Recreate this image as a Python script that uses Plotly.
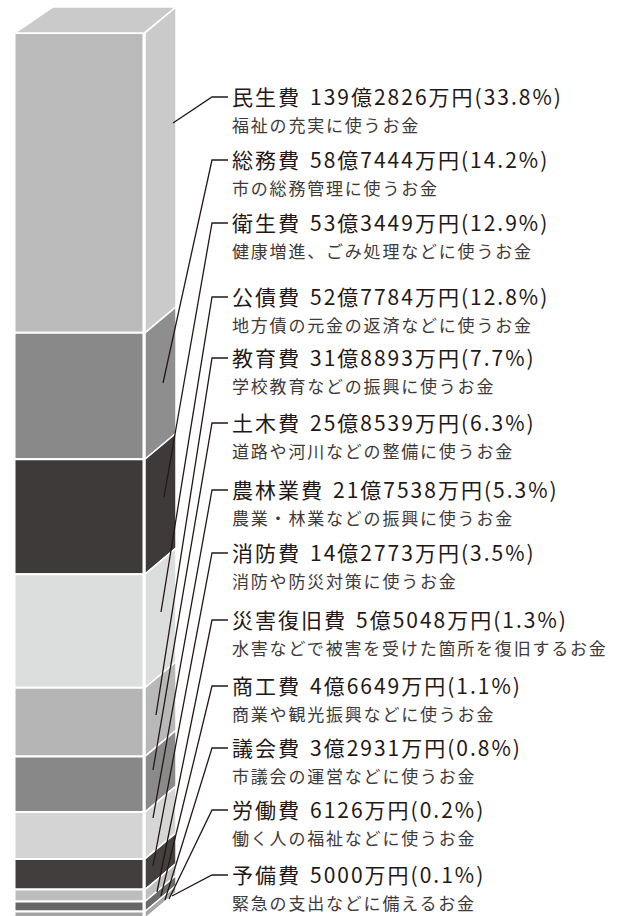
import plotly.graph_objects as go

# ---------------- data ----------------
categories = ["民生費", "総務費", "衛生費", "公債費", "教育費", "土木費", "農林業費",
              "消防費", "災害復旧費", "商工費", "議会費", "労働費", "予備費"]
amount_man = [1392826, 587444, 533449, 527784, 318893, 258539, 217538,
              142773, 55048, 46649, 32931, 6126, 5000]          # 万円
percent_labels = [33.8, 14.2, 12.9, 12.8, 7.7, 6.3, 5.3, 3.5, 1.3, 1.1, 0.8, 0.2, 0.1]
descriptions = ["福祉の充実に使うお金", "市の総務管理に使うお金", "健康増進、ごみ処理などに使うお金",
                "地方債の元金の返済などに使うお金", "学校教育などの振興に使うお金",
                "道路や河川などの整備に使うお金", "農業・林業などの振興に使うお金",
                "消防や防災対策に使うお金", "水害などで被害を受けた箇所を復旧するお金",
                "商業や観光振興などに使うお金", "市議会の運営などに使うお金",
                "働く人の福祉などに使うお金", "緊急の支出などに備えるお金"]

# ---------------- styles / layout ----------------
front_colors = ["#bababa", "#898989", "#3e3a39", "#dcdddd", "#b5b5b5", "#888888", "#d4d4d4",
                "#423e3d", "#bcbcbc", "#676767", "#a3a3a3", "#888888", "#c8c8c8"]
side_colors = ["#cacaca", "#8e8e8e", "#3e3a39", "#dcdddd", "#b8b8b8", "#8a8a8a", "#d6d6d6",
               "#444040", "#bfbfbf", "#6a6a6a", "#a6a6a6", "#8c8c8c", "#cacaca"]
top_color = "#cacaca"

W, H = 618, 916
TOP_PX = 33.0
PX_PER_PCT = 8.88
DEPTH_PX = 26.0


def ypct(px):
    return (px - TOP_PX) / PX_PER_PCT


label_y_px = [97, 160, 223, 297, 358, 423, 490, 553, 620, 686, 748, 810, 875]
leader_end_px = [(173, 123), (163, 383), (164, 497), (161, 612), (156, 715), (153, 770),
                 (153, 818), (153, 866), (157, 892), (161, 896), (165, 900), (169, 899),
                 (172, 896)]

total = sum(amount_man)
pcts = [v / total * 100 for v in amount_man]
starts = []
acc = 0.0
for p in pcts:
    starts.append(acc)
    acc += p

fig = go.Figure()

dep = DEPTH_PX / PX_PER_PCT

# top face
fig.add_trace(go.Scatter(x=[15, 144, 176, 53, 15], y=[0, 0, -dep, -dep, 0], fill="toself",
                         fillcolor=top_color, mode="lines", line=dict(color="white", width=1.5),
                         hoverinfo="skip"))

for i, cat in enumerate(categories):
    s, p = starts[i], pcts[i]
    # front face
    fig.add_trace(go.Bar(x=[79], y=[p], base=[s], width=[129], marker_color=front_colors[i],
                         marker_line=dict(color="white", width=2), name=cat))
    # side face
    fig.add_trace(go.Scatter(x=[145, 176, 176, 145, 145],
                             y=[s, s - dep, s + p - dep, s + p, s],
                             fill="toself", fillcolor=side_colors[i], mode="lines",
                             line=dict(color="white", width=1.5), hoverinfo="skip"))

# leader lines
for i in range(len(categories)):
    ex, ey = leader_end_px[i]
    ly = label_y_px[i]
    fig.add_trace(go.Scatter(x=[ex, 212, 228], y=[ypct(ey), ypct(ly), ypct(ly)], mode="lines",
                             line=dict(color="#231815", width=1.3), hoverinfo="skip"))


def fmt_amount(v):
    oku, man = divmod(v, 10000)
    return f"{oku}億{man}万円" if oku else f"{man}万円"


MAIN_FONT = "Noto Sans CJK JP"
annotations = []
for i, cat in enumerate(categories):
    ly = label_y_px[i]
    annotations.append(dict(x=230, y=ypct(ly - 1), xref="x", yref="y", xanchor="left",
                            yanchor="middle", showarrow=False,
                            text=f"{cat}\u2004{fmt_amount(amount_man[i])}({percent_labels[i]}%)",
                            font=dict(family=MAIN_FONT, size=21, color="#231815")))
    annotations.append(dict(x=230, y=ypct(ly + 27), xref="x", yref="y", xanchor="left",
                            yanchor="middle", showarrow=False, text=descriptions[i],
                            font=dict(family=MAIN_FONT, size=17, color="#3e3a39")))

fig.update_layout(
    width=W, height=H, margin=dict(l=0, r=0, t=0, b=0),
    paper_bgcolor="white", plot_bgcolor="white", showlegend=False,
    barmode="overlay", annotations=annotations,
    xaxis=dict(range=[0, W], visible=False, fixedrange=True),
    yaxis=dict(range=[ypct(H), ypct(0)], visible=False, fixedrange=True),
)

# widen the letter tracking of the label texts (kept left-aligned)
post = """
document.body.style.margin = '0';
var gd = document.getElementById('{plot_id}');
gd.querySelectorAll('.annotation-text').forEach(function (t) {
  var b = t.getBBox();
  var fs = parseFloat(window.getComputedStyle(t).fontSize);
  t.style.letterSpacing = (fs > 19 ? 2.0 : 1.8) + 'px';
  t.setAttribute('text-anchor', 'start');
  t.setAttribute('x', b.x);
});
"""

fig.write_html("out.html", config={"displayModeBar": False}, post_script=post)
